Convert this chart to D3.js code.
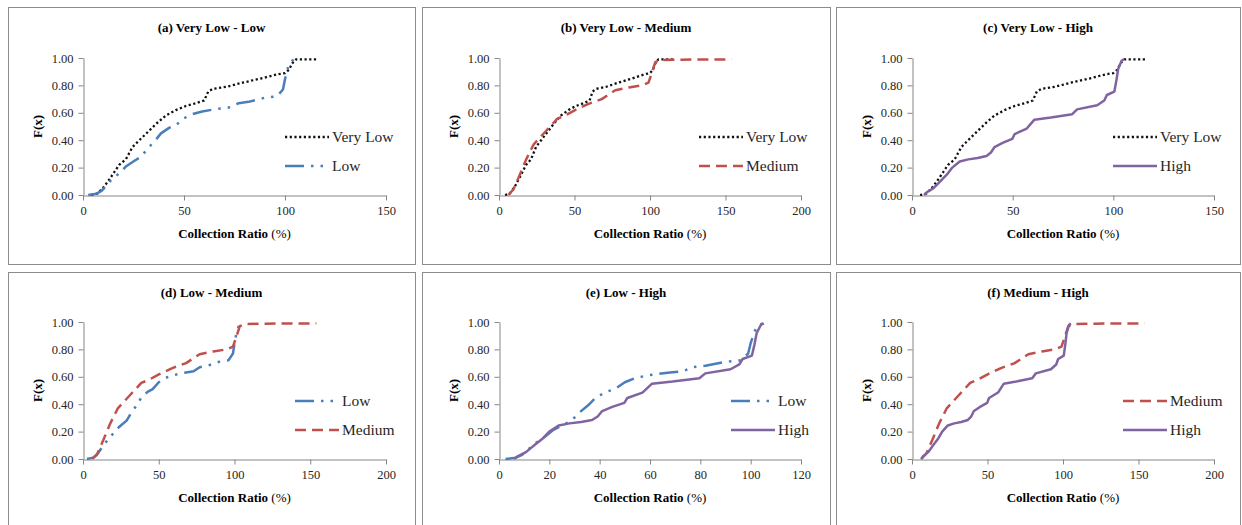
<!DOCTYPE html>
<meta charset="utf-8">
<style>
  body { margin: 0; background: #fff; }
  svg text { font-family: "Liberation Serif", "DejaVu Serif", "Times New Roman", serif !important; }
</style>
<script src="https://d3js.org/d3.v7.min.js"></script>
<div id="chart"></div>
<script>

  // CDF points [collection ratio %, F(x)]
  var veryLow = [[4,0],[7.1,0.01],[10.4,0.06],[13.8,0.13],[17.9,0.22],[21.2,0.26],[24.5,0.35],[27.9,0.40],
    [32.8,0.47],[37,0.53],[41,0.58],[46,0.62],[51,0.65],[56,0.67],[60,0.69],[62,0.755],[64.3,0.775],
    [71,0.79],[79,0.82],[88,0.85],[96,0.88],[100,0.89],[102,0.915],[103.5,0.96],[105.5,0.99],[116,0.99]]

  var low = [[2.6,0],[6.7,0.01],[9.2,0.03],[10.8,0.056],[14,0.11],[18.1,0.16],[21.4,0.21],[25.5,0.25],
    [28.8,0.28],[32,0.34],[35.3,0.39],[38.6,0.45],[42.6,0.49],[46,0.51],[50,0.56],[54,0.59],[59,0.61],
    [67,0.63],[73,0.64],[77,0.67],[82,0.68],[90,0.71],[96,0.72],[99,0.77],[100,0.845],[101.5,0.93],
    [103,0.975],[104.8,0.99]]

  var medium = [[6.2,0],[9.5,0.04],[13.5,0.14],[18,0.26],[23,0.37],[30.5,0.46],[38.5,0.555],[43.8,0.58],
    [50.4,0.62],[59.3,0.665],[68,0.70],[77,0.765],[86,0.785],[94.7,0.80],[99,0.82],[101.3,0.895],
    [103.5,0.97],[106.9,0.985],[121,0.988],[154,0.99]]

  var high = [[6,0],[7.4,0.02],[10.7,0.05],[14,0.10],[17.4,0.15],[20,0.20],[23.7,0.245],[28,0.26],
    [32.6,0.27],[37,0.285],[39.2,0.31],[41,0.35],[45,0.38],[49.8,0.41],[51,0.445],[57,0.485],
    [60.8,0.55],[69,0.565],[79.6,0.59],[82,0.625],[92,0.655],[95.5,0.69],[96.8,0.73],[100.5,0.755],
    [101.5,0.835],[102.4,0.92],[104.1,0.98],[105.2,0.99]]

  // panel contents
  var titles = ["(a) Very Low - Low", "(b) Very Low - Medium", "(c) Very Low - High",
    "(d) Low - Medium", "(e) Low - High", "(f) Medium - High"]
  var pairs = [["Very Low", "Low"], ["Very Low", "Medium"], ["Very Low", "High"],
    ["Low", "Medium"], ["Low", "High"], ["Medium", "High"]]
  var xMax = [150, 200, 150, 200, 120, 200]
  var xStep = [50, 50, 50, 50, 20, 50]
  var yTicks = [0, 0.2, 0.4, 0.6, 0.8, 1.0]

  var seriesData = { "Very Low": veryLow, "Low": low, "Medium": medium, "High": high }

  // line styles per series
  var styles = {
    "Very Low": { color: "#111111", dash: "2.2,2.5", width: 2.3 },
    "Low": { color: "#4a7ebb", dash: "19,7,2.5,7,2.5,7", width: 2.5 },
    "Medium": { color: "#c0504d", dash: "11,6", width: 2.5 },
    "High": { color: "#8064a2", dash: null, width: 2.5 }
  }

  // layout
  var boxes = [[8, 7, 407], [422, 7, 408], [836, 7, 404], [8, 272, 407], [422, 272, 408], [836, 272, 404]]
  var plotLeft = [83, 499, 912], plotRight = [386, 801, 1214]
  var plotTop = [58, 322], plotBottom = [195, 459]
  var legendX = [285, 699, 1113, 295, 731, 1123]

  var serif = "'Liberation Serif', 'DejaVu Serif', serif"

  var svg = d3.select("#chart").append("svg")
    .attr("width", 1242)
    .attr("height", 525)
    .attr("font-family", serif)

  titles.forEach(function (title, i) {
    var col = i % 3, row = Math.floor(i / 3)
    var b = boxes[i]

    // panel frame
    svg.append("rect")
      .attr("x", b[0] + 0.5).attr("y", b[1] + 0.5)
      .attr("width", b[2]).attr("height", row == 0 ? 257 : 270)
      .style("fill", "none").style("stroke", "#8c8c8c").style("stroke-width", 1)

    var x = d3.scaleLinear().domain([0, xMax[i]]).range([plotLeft[col], plotRight[col]])
    var y = d3.scaleLinear().domain([0, 1]).range([plotBottom[row], plotTop[row]])

    var g = svg.append("g")

    // title
    g.append("text")
      .attr("x", b[0] + b[2] / 2)
      .attr("y", b[1] + 25)
      .attr("text-anchor", "middle")
      .style("font-family", serif)
      .style("font-size", "13px")
      .style("font-weight", "bold")
      .text(title)

    // axes
    var xTicks = d3.range(0, xMax[i] + 0.001, xStep[i])
    var xAxis = g.append("g")
      .attr("transform", "translate(0," + (plotBottom[row] + 0.5) + ")")
      .call(d3.axisBottom(x).tickValues(xTicks).tickFormat(d3.format("d"))
        .tickSize(5).tickSizeOuter(0).tickPadding(6))
    var yAxis = g.append("g")
      .attr("transform", "translate(" + (plotLeft[col] + 0.5) + ",0)")
      .call(d3.axisLeft(y).tickValues(yTicks).tickFormat(d3.format(".2f"))
        .tickSize(5).tickSizeOuter(0).tickPadding(5))

    ;[xAxis, yAxis].forEach(function (a) {
      a.attr("font-family", serif)
      a.selectAll("path, line").style("stroke", "#868686").style("stroke-width", 1)
      a.selectAll("text")
        .style("font-family", serif)
        .style("font-size", "12.5px")
        .style("fill", "#262626")
    })

    // axis titles
    g.append("text")
      .attr("x", (plotLeft[col] + plotRight[col]) / 2)
      .attr("y", plotBottom[row] + 43)
      .attr("text-anchor", "middle")
      .style("font-family", serif)
      .style("font-size", "13px")
      .html("<tspan font-weight='bold'>Collection Ratio</tspan> (%)")

    g.append("text")
      .attr("transform", "translate(" + (plotLeft[col] - 41) + "," + ((plotTop[row] + plotBottom[row]) / 2) + ") rotate(-90)")
      .attr("text-anchor", "middle")
      .style("font-family", serif)
      .style("font-size", "13px")
      .style("font-weight", "bold")
      .text("F(x)")

    // lines
    var line = d3.line()
      .x(function (d) { return x(d[0]) })
      .y(function (d) { return y(d[1]) })

    pairs[i].forEach(function (name, k) {
      var s = styles[name]
      g.append("path")
        .datum(seriesData[name])
        .attr("d", line)
        .style("fill", "none")
        .style("stroke", s.color)
        .style("stroke-width", s.width)
        .style("stroke-dasharray", s.dash)
        .style("stroke-linejoin", "round")

      // legend
      var ly = plotTop[row] + 79 + k * 29
      g.append("line")
        .attr("x1", legendX[i]).attr("x2", legendX[i] + 44)
        .attr("y1", ly).attr("y2", ly)
        .style("stroke", s.color)
        .style("stroke-width", s.width)
        .style("stroke-dasharray", s.dash)
      g.append("text")
        .attr("x", legendX[i] + 47)
        .attr("y", ly + 5)
        .style("font-family", serif)
        .style("font-size", "15.5px")
        .style("fill", "#262626")
        .text(name)
    })
  })

</script>
